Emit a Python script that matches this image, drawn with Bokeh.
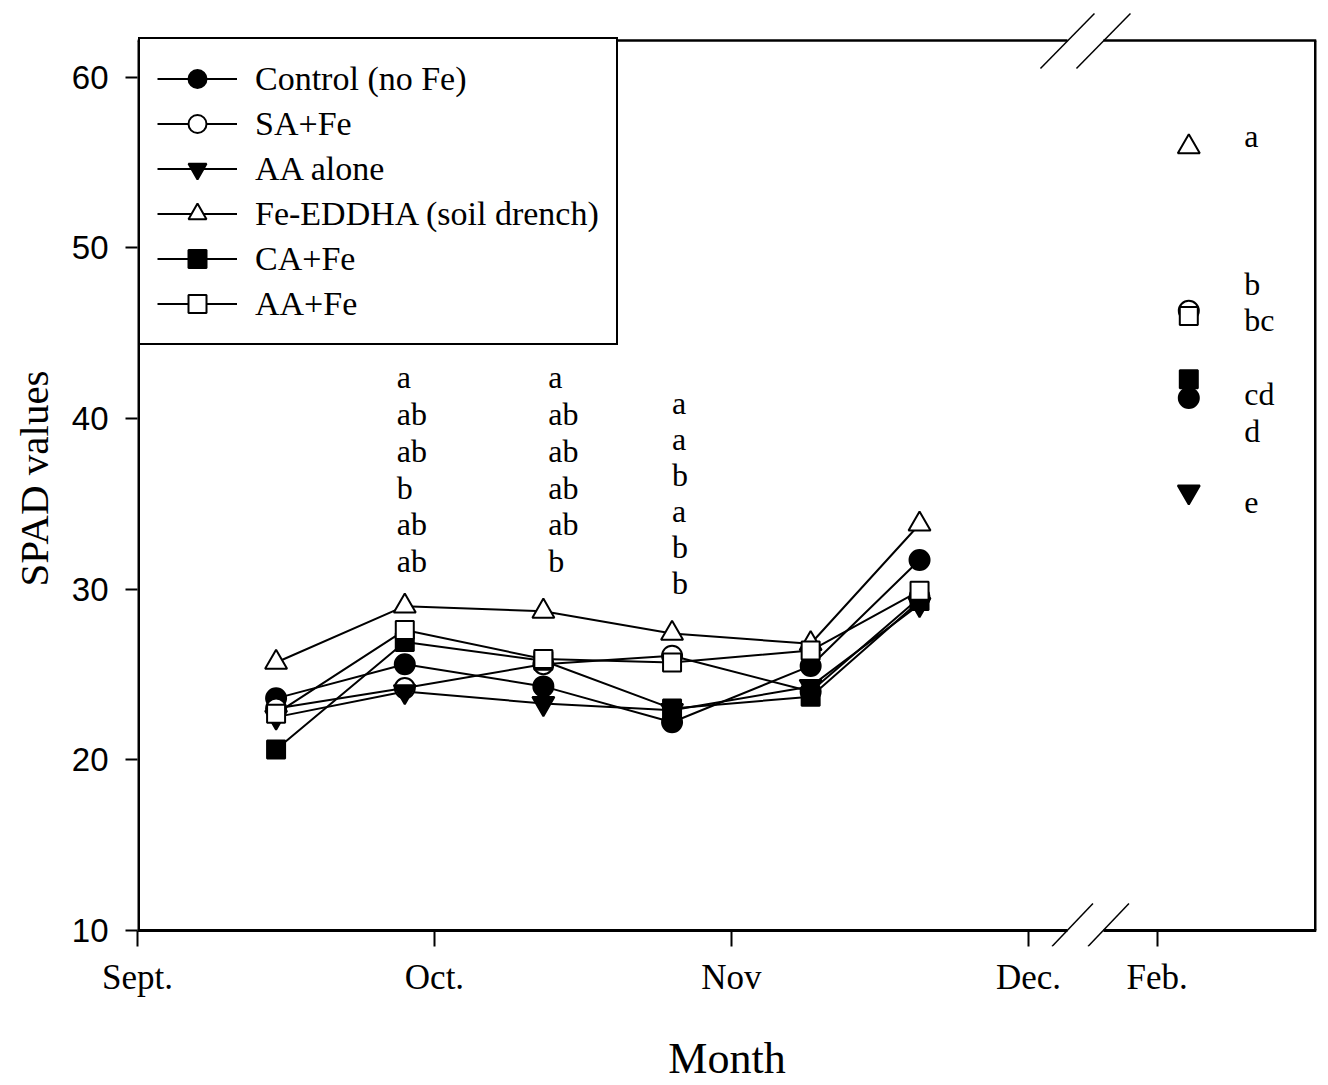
from bokeh.plotting import figure
from bokeh.models import Range1d, FixedTicker, Legend, LegendItem
from bokeh.embed import file_html
from bokeh.resources import INLINE
from bokeh.core.properties import value

# ---------------- data ----------------
sample_day = [14, 27, 41, 54, 68, 79]      # days after 1 Sept.
feb_day = 106.2

series_names = ["Control (no Fe)", "SA+Fe", "AA alone",
                "Fe-EDDHA (soil drench)", "CA+Fe", "AA+Fe"]
control = [23.6, 25.6, 24.3, 22.2, 25.5, 31.7]
sa_fe = [23.0, 24.2, 25.6, 26.1, 24.0, 29.5]
aa_alone = [22.5, 24.0, 23.3, 22.9, 24.3, 29.1]
fe_eddha = [25.7, 29.0, 28.7, 27.4, 26.8, 33.8]
ca_fe = [20.6, 26.9, 25.8, 23.0, 23.7, 29.3]
aa_fe = [22.7, 27.6, 25.9, 25.7, 26.4, 29.9]
series_values = [control, sa_fe, aa_alone, fe_eddha, ca_fe, aa_fe]

feb_values = [41.2, 46.3, 35.7, 55.9, 42.3, 46.0]   # same order as series

month_ticks = [0, 30, 60, 90, 103]
month_labels = ["Sept.", "Oct.", "Nov", "Dec.", "Feb."]
y_ticks = [10, 20, 30, 40, 50, 60]

# significance letters
letters_oct = ["a", "ab", "ab", "b", "ab", "ab"]
letters_mid_oct = ["a", "ab", "ab", "ab", "ab", "b"]
letters_late_oct = ["a", "a", "b", "a", "b", "b"]
letter_columns = [letters_oct, letters_mid_oct, letters_late_oct]
letter_col_x = [26.2, 41.5, 54.0]
letter_col_top = [42.40, 42.40, 40.93]
letter_col_step = [2.15, 2.15, 2.11]

letters_feb = ["a", "b", "bc", "cd", "d", "e"]
letters_feb_x = 111.8
letters_feb_y = [56.52, 47.87, 45.76, 41.43, 39.26, 35.07]

# ---------------- layout / styles ----------------
markers = ["circle", "circle", "inverted_triangle", "triangle", "square", "square"]
fills = ["black", "white", "black", "white", "black", "white"]
sizes = [20, 20, 22, 22, 18, 18]

W, H = 1328, 1085
FL, FR, FT, FB = 137, 1316, 10, 946          # bokeh frame (pixels)
PX_PER_Y = 17.07                             # pixels per SPAD unit
AXIS_PX = 930                                # pixel row of y = 10
X0, X1 = 0, 119.1
YB = 10 - (FB - AXIS_PX) / PX_PER_Y
YT = 10 + (AXIS_PX - FT) / PX_PER_Y
Y_FRAME_TOP = 62.14                          # drawn frame top
px_x = (X1 - X0) / (FR - FL)
px_y = 1.0 / PX_PER_Y

p = figure(width=W, height=H, x_range=Range1d(X0, X1), y_range=Range1d(YB, YT),
           output_backend="svg", toolbar_location=None,
           min_border_left=FL, min_border_right=W - FR, min_border_top=FT,
           min_border_bottom=H - FB)
p.outline_line_color = None
p.grid.visible = False
p.background_fill_color = "white"
p.border_fill_color = "white"

# axes
p.xaxis.ticker = FixedTicker(ticks=month_ticks)
p.xaxis.major_label_overrides = {t: l for t, l in zip(month_ticks, month_labels)}
p.yaxis.ticker = FixedTicker(ticks=y_ticks)
for ax in (p.xaxis, p.yaxis):
    ax.axis_line_color = None
    ax.minor_tick_line_color = None
    ax.major_tick_line_color = "black"
    ax.major_tick_line_width = 2
    ax.major_label_text_color = "black"
    ax.axis_label_text_color = "black"
    ax.axis_label_text_font = "Liberation Serif"
    ax.axis_label_text_font_style = "normal"
p.xaxis.major_tick_in = FB - AXIS_PX
p.xaxis.major_tick_out = 0
p.yaxis.major_tick_in = 0
p.yaxis.major_tick_out = 12
p.xaxis.major_label_text_font = "Liberation Serif"
p.xaxis.major_label_text_font_size = "35px"
p.xaxis.major_label_standoff = 11
p.yaxis.major_label_text_font = "Liberation Sans"
p.yaxis.major_label_text_font_size = "33px"
p.yaxis.major_label_standoff = 17
p.xaxis.axis_label = "Month"
p.xaxis.axis_label_text_font_size = "44px"
p.xaxis.axis_label_standoff = 34
p.yaxis.axis_label = "SPAD values"
p.yaxis.axis_label_text_font_size = "41px"
p.yaxis.axis_label_standoff = 12

# frame drawn by hand, with gaps at the axis break
BRK_X = 95.76
gap = 18 * px_x
p.segment(x0=[X0, X1], y0=[10, 10], x1=[X0, X1], y1=[Y_FRAME_TOP, Y_FRAME_TOP],
          line_color="black", line_width=5)
p.segment(x0=[X0, BRK_X + gap], y0=[10, 10], x1=[BRK_X - gap, X1], y1=[10, 10],
          line_color="black", line_width=3)
p.segment(x0=[X0, BRK_X + gap], y0=[Y_FRAME_TOP] * 2, x1=[BRK_X - gap, X1],
          y1=[Y_FRAME_TOP] * 2, line_color="black", line_width=2.5)

# break marks
top_cy = Y_FRAME_TOP - 0.5 * px_y
bot_cy = 10 + 5.5 * px_y
tdx, tdy = 27 * px_x, 27.5 * px_y
bdx, bdy = 20.5 * px_x, 21.5 * px_y
bx0, by0, bx1, by1 = [], [], [], []
for cx_off in (-18, 18):
    cxt = BRK_X + cx_off * px_x
    bx0 += [cxt - tdx]; by0 += [top_cy - tdy]; bx1 += [cxt + tdx]; by1 += [top_cy + tdy]
    cxb = BRK_X + (cx_off + 5) * px_x
    bx0 += [cxb - bdx]; by0 += [bot_cy - bdy]; bx1 += [cxb + bdx]; by1 += [bot_cy + bdy]
p.segment(x0=bx0, y0=by0, x1=bx1, y1=by1, line_color="black", line_width=1.5)

# lines first, then markers
line_rs = []
for vals in series_values:
    line_rs.append(p.line(sample_day, vals, line_color="black", line_width=2))
marker_rs = []
for vals, m, f, s in zip(series_values, markers, fills, sizes):
    marker_rs.append(p.scatter(sample_day, vals, marker=m, size=s, fill_color=f,
                               line_color="black", line_width=2))

# February points
feb_order = [3, 1, 5, 4, 0, 2]
for i in feb_order:
    p.scatter([feb_day], [feb_values[i]], marker=markers[i], size=sizes[i],
              fill_color=fills[i], line_color="black", line_width=2)

# letters
for col, lx, top, step in zip(letter_columns, letter_col_x, letter_col_top, letter_col_step):
    p.text(x=[lx] * len(col), y=[top - k * step for k in range(len(col))], text=col,
           text_font=value("Liberation Serif"), text_font_size="32px",
           text_align="left", text_baseline="alphabetic", text_color="black")
p.text(x=[letters_feb_x] * len(letters_feb), y=letters_feb_y, text=letters_feb,
       text_font=value("Liberation Serif"), text_font_size="32px",
       text_align="left", text_baseline="alphabetic", text_color="black")

legend = Legend(items=[LegendItem(label=n, renderers=[l, m])
                       for n, l, m in zip(series_names, line_rs, marker_rs)],
                location=(1, FB - 41 - 304), margin=0, padding=17, spacing=0,
                glyph_width=80, glyph_height=45, label_height=45, label_standoff=18,
                label_text_font="Liberation Serif", label_text_font_size="34px",
                label_text_color="black",
                border_line_color="black", border_line_width=2, border_line_alpha=1,
                background_fill_color="white", background_fill_alpha=1)
p.add_layout(legend)

open("out.html", "w").write(file_html(p, INLINE))
